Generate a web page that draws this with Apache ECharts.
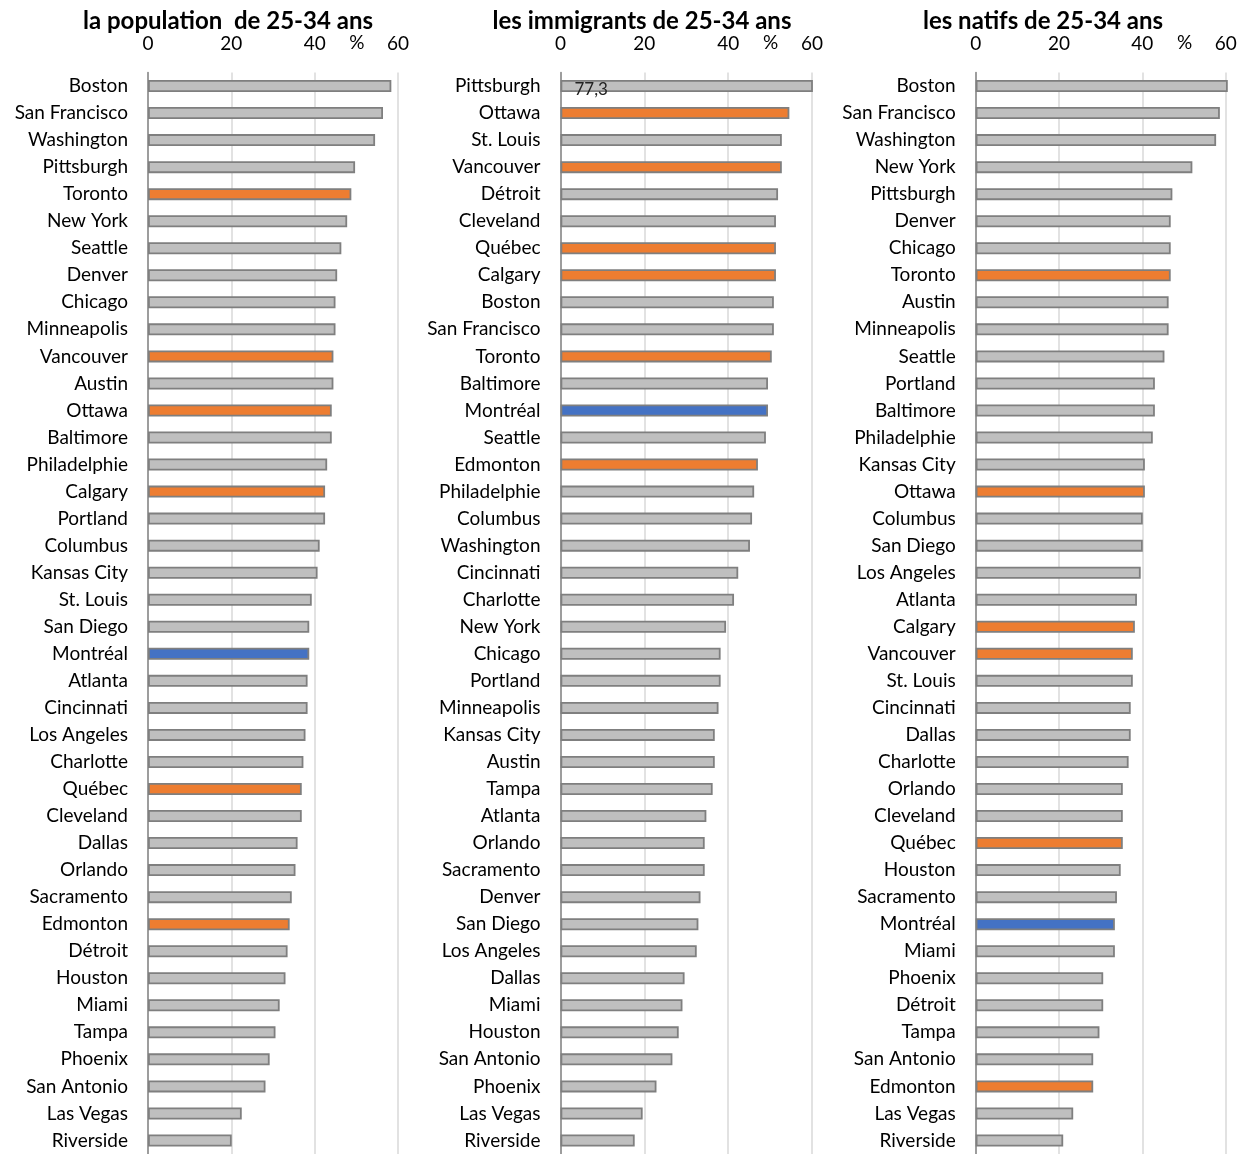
<!DOCTYPE html>
<html>
<head>
<meta charset="utf-8">
<script src="https://cdn.jsdelivr.net/npm/echarts@6/dist/echarts.min.js"></script>
<style>
html,body{margin:0;padding:0;background:#fff;}
#c{width:1244px;height:1154px;}
</style>
</head>
<body>
<div id="c"></div>
<script>
// ---- Data ----
const titles = ['la population  de 25-34 ans', 'les immigrants de 25-34 ans', 'les natifs de 25-34 ans'];
const tickValues = [0, 20, 40, 60];
const unitLabel = '%';

const cities1 = ['Boston','San Francisco','Washington','Pittsburgh','Toronto','New York','Seattle','Denver','Chicago','Minneapolis','Vancouver','Austin','Ottawa','Baltimore','Philadelphie','Calgary','Portland','Columbus','Kansas City','St. Louis','San Diego','Montréal','Atlanta','Cincinnati','Los Angeles','Charlotte','Québec','Cleveland','Dallas','Orlando','Sacramento','Edmonton','Détroit','Houston','Miami','Tampa','Phoenix','San Antonio','Las Vegas','Riverside'];
const values1 = [58.4,56.4,54.5,49.7,48.8,47.8,46.4,45.4,45.0,45.0,44.5,44.5,44.1,44.1,43.0,42.5,42.5,41.2,40.7,39.3,38.7,38.7,38.3,38.3,37.8,37.3,36.9,36.9,35.9,35.4,34.5,34.0,33.5,33.0,31.6,30.6,29.2,28.2,22.5,20.1];

const cities2 = ['Pittsburgh','Ottawa','St. Louis','Vancouver','Détroit','Cleveland','Québec','Calgary','Boston','San Francisco','Toronto','Baltimore','Montréal','Seattle','Edmonton','Philadelphie','Columbus','Washington','Cincinnati','Charlotte','New York','Chicago','Portland','Minneapolis','Kansas City','Austin','Tampa','Atlanta','Orlando','Sacramento','Denver','San Diego','Los Angeles','Dallas','Miami','Houston','San Antonio','Phoenix','Las Vegas','Riverside'];
const values2 = [77.3,54.6,52.8,52.8,51.9,51.4,51.4,51.4,50.9,50.9,50.4,49.5,49.5,49.0,47.1,46.2,45.7,45.2,42.4,41.4,39.5,38.2,38.2,37.7,36.8,36.8,36.3,34.8,34.4,34.4,33.4,32.9,32.5,29.6,29.1,28.2,26.7,22.9,19.6,17.7];

const cities3 = ['Boston','San Francisco','Washington','New York','Pittsburgh','Denver','Chicago','Toronto','Austin','Minneapolis','Seattle','Portland','Baltimore','Philadelphie','Kansas City','Ottawa','Columbus','San Diego','Los Angeles','Atlanta','Calgary','Vancouver','St. Louis','Cincinnati','Dallas','Charlotte','Orlando','Cleveland','Québec','Houston','Sacramento','Montréal','Miami','Phoenix','Détroit','Tampa','San Antonio','Edmonton','Las Vegas','Riverside'];
const values3 = [60.5,58.6,57.7,52.0,47.2,46.8,46.8,46.8,46.3,46.3,45.3,43.0,43.0,42.5,40.6,40.6,40.1,40.1,39.6,38.7,38.2,37.7,37.7,37.2,37.2,36.7,35.3,35.3,35.3,34.8,33.9,33.4,33.4,30.6,30.6,29.7,28.2,28.2,23.4,21.0];

const canadianCities = ['Toronto','Vancouver','Ottawa','Calgary','Québec','Edmonton'];
const focusCity = 'Montréal';
const breakThreshold = 70; // bars beyond this are cut at the axis end and labelled

// ---- Style ----
const FONT = 'Lato, "Open Sans", sans-serif';
const GREY = '#bfbfbf', ORANGE = '#ed7d31', BLUE = '#4472c4', EDGE = '#7f7f7f';

function colorFor(city) {
  if (city === focusCity) return BLUE;
  if (canadianCities.includes(city)) return ORANGE;
  return GREY;
}

const panels = [
  {cities: cities1, values: values1, left: 148, width: 250, titleX: 223},
  {cities: cities2, values: values2, left: 560.5, width: 251.5, titleX: 637},
  {cities: cities3, values: values3, left: 975.7, width: 250, titleX: 1038}
];

const axisMax = tickValues[tickValues.length - 1];
const grid = [], xAxis = [], yAxis = [], series = [], title = [];
panels.forEach((p, i) => {
  grid.push({left: p.left, width: p.width, top: 72.5, bottom: -2.5, containLabel: false});
  title.push({
    text: titles[i], left: p.titleX, top: 4, textAlign: 'center',
    textStyle: {fontFamily: FONT, fontSize: 24, fontWeight: 'bold', color: '#000'}
  });
  xAxis.push({
    type: 'value', gridIndex: i, position: 'top', min: tickValues[0], max: axisMax, interval: 20,
    axisLine: {show: false}, axisTick: {show: false},
    axisLabel: {fontFamily: FONT, fontSize: 19, color: '#000', margin: 19},
    splitLine: {show: true, lineStyle: {color: '#d9d9d9', width: 1.5}}
  });
  yAxis.push({
    type: 'category', gridIndex: i, inverse: true, data: p.cities,
    axisLine: {show: true, lineStyle: {color: '#868686', width: 1.5}},
    axisTick: {show: false},
    axisLabel: {fontFamily: FONT, fontSize: 19, color: '#000', margin: 20, interval: 0}
  });
  const hasBreak = p.values.some(v => v > breakThreshold);
  series.push({
    type: 'bar', xAxisIndex: i, yAxisIndex: i, barWidth: 12, clip: hasBreak,
    data: p.values.map((v, k) => {
      const d = {value: v, itemStyle: {color: colorFor(p.cities[k]), borderColor: EDGE, borderWidth: 1.8}};
      if (v > breakThreshold) {
        d.label = {show: true, position: 'insideLeft', offset: [9, 3], formatter: String(v).replace('.', ','),
          fontFamily: FONT, fontSize: 17, color: '#222'};
      }
      return d;
    }),
    animation: false
  });
});

const chart = echarts.init(document.getElementById('c'), null, {renderer: 'canvas'});
chart.setOption({animation: false, backgroundColor: '#fff', title, grid, xAxis, yAxis, series});

// place the "%" unit label at value 50 on each top axis
const graphics = panels.map((p, i) => {
  const px = chart.convertToPixel({xAxisIndex: i}, 50);
  return {type: 'text', left: px - 7, top: 33,
    style: {text: unitLabel, font: '19px ' + FONT, fill: '#000'}};
});
chart.setOption({graphic: graphics});
</script>
</body>
</html>
